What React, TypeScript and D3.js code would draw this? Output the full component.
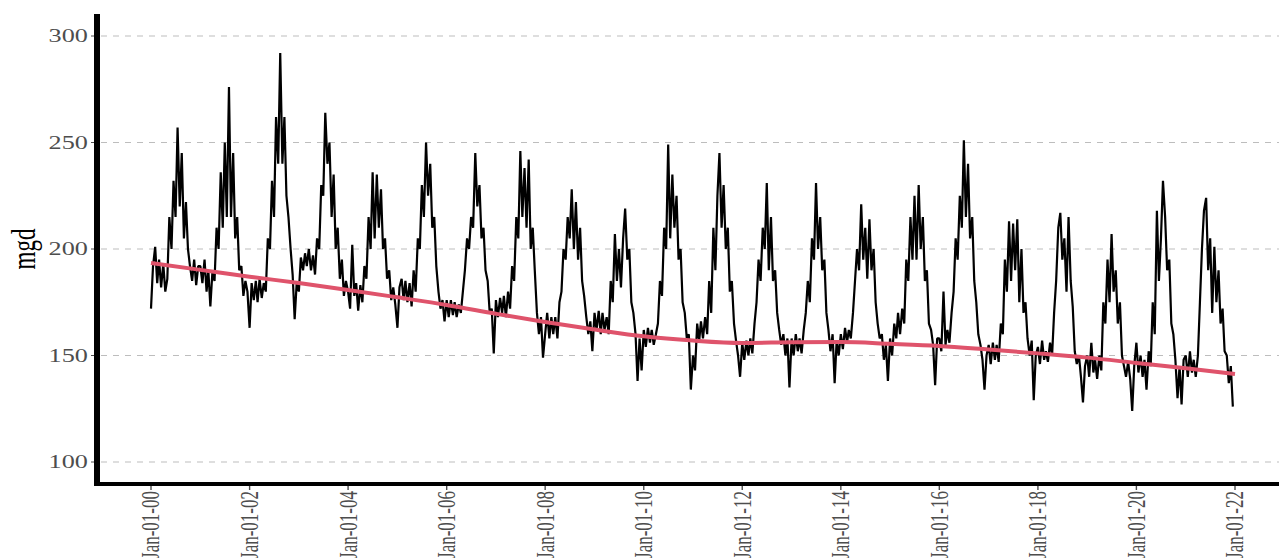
import { useRef, useEffect } from "react";
import * as d3 from "d3";

// half-monthly readings (1st and 16th of each month), one row per year 2000..2021
const startYear = 2000;
const demandByYear: number[][] = [
  [172, 192, 201, 184, 195, 182, 193, 180, 186, 215, 200, 232, 215, 257, 220, 245, 205, 222, 200, 192, 185, 195, 183, 192], // 2000
  [192, 184, 195, 180, 190, 173, 190, 185, 210, 200, 236, 210, 250, 215, 276, 215, 245, 205, 215, 190, 192, 178, 185, 180], // 2001
  [163, 184, 176, 185, 175, 186, 177, 184, 180, 205, 200, 232, 215, 262, 240, 292, 240, 262, 225, 215, 200, 188, 167, 184], // 2002
  [180, 196, 190, 198, 192, 200, 190, 197, 188, 205, 200, 230, 225, 264, 240, 250, 215, 235, 200, 210, 186, 195, 178, 185], // 2003
  [180, 172, 202, 178, 184, 171, 183, 175, 192, 186, 215, 200, 236, 205, 235, 210, 228, 200, 205, 186, 190, 176, 182, 174], // 2004
  [163, 182, 186, 176, 185, 175, 184, 173, 190, 180, 205, 200, 230, 215, 250, 225, 240, 210, 215, 192, 180, 172, 176, 166], // 2005
  [176, 168, 176, 169, 175, 168, 174, 170, 180, 190, 205, 200, 215, 210, 245, 220, 230, 205, 210, 190, 185, 170, 172, 151], // 2006
  [176, 168, 177, 170, 178, 168, 180, 172, 192, 185, 215, 205, 246, 215, 238, 210, 242, 200, 210, 190, 170, 160, 168, 149], // 2007
  [160, 170, 158, 168, 160, 168, 158, 175, 180, 200, 195, 215, 205, 228, 200, 222, 195, 210, 185, 178, 168, 160, 166, 152], // 2008
  [170, 162, 171, 160, 170, 162, 168, 160, 185, 175, 207, 185, 200, 182, 205, 219, 195, 200, 175, 170, 160, 138, 158, 143], // 2009
  [162, 154, 163, 156, 162, 155, 160, 165, 185, 178, 210, 200, 249, 205, 235, 210, 225, 195, 200, 175, 170, 158, 160, 134], // 2010
  [150, 143, 165, 157, 166, 158, 168, 160, 185, 170, 210, 190, 225, 245, 210, 230, 200, 210, 180, 185, 165, 157, 150, 140], // 2011
  [156, 148, 157, 150, 158, 151, 165, 175, 195, 185, 210, 200, 231, 190, 215, 185, 190, 170, 162, 155, 160, 150, 158, 135], // 2012
  [158, 150, 160, 152, 158, 151, 162, 170, 185, 175, 205, 195, 231, 200, 215, 190, 195, 170, 162, 152, 160, 137, 157, 150], // 2013
  [160, 153, 163, 156, 162, 158, 170, 185, 200, 190, 221, 195, 210, 186, 214, 190, 200, 175, 165, 158, 160, 148, 155, 138], // 2014
  [158, 150, 165, 158, 170, 160, 172, 165, 195, 185, 215, 195, 225, 195, 230, 200, 215, 185, 190, 165, 162, 155, 136, 158], // 2015
  [158, 152, 180, 155, 162, 156, 170, 180, 205, 195, 225, 210, 251, 215, 240, 205, 215, 185, 175, 160, 155, 148, 134, 150], // 2016
  [155, 146, 156, 148, 155, 147, 165, 160, 195, 180, 213, 185, 212, 190, 214, 175, 200, 170, 175, 158, 150, 157, 129, 150], // 2017
  [154, 146, 157, 148, 152, 147, 156, 150, 170, 185, 210, 217, 195, 205, 180, 215, 185, 173, 152, 146, 150, 140, 128, 145], // 2018
  [150, 140, 156, 142, 148, 139, 150, 143, 175, 165, 195, 175, 207, 180, 190, 165, 175, 150, 145, 140, 147, 139, 124, 145], // 2019
  [156, 142, 150, 140, 148, 134, 152, 145, 175, 160, 218, 185, 205, 232, 215, 190, 195, 165, 160, 148, 130, 145, 127, 148], // 2020
  [150, 140, 152, 142, 148, 140, 150, 175, 200, 218, 224, 190, 205, 170, 201, 175, 190, 165, 172, 152, 150, 137, 145, 126], // 2021
];

// smoothed trend, read at Jan 1 of each year
const trendYears = d3.range(2000, 2023);
const trendValues = [
  193.4, 190.2, 187, 184, 180.8, 177.3, 173.7, 169.6, 165.7, 162.2, 159, 157, 155.9, 156.2, 156.3, 155.5, 154.5,
  152.8, 151, 149, 146.5, 144, 141.3,
];

const yTicks = [100, 150, 200, 250, 300];
const xTickYears = d3.range(2000, 2023, 2);

const W = 1279;
const H = 558;
const SX = 1.42; // the original render is stretched horizontally
const FONT = "'Liberation Serif', 'Times New Roman', serif";

export default function App() {
  const svgRef = useRef<SVGSVGElement>(null);

  useEffect(() => {
    if (!svgRef.current) return;
    const svg = d3.select(svgRef.current);
    svg.selectAll("*").remove();

    const panel = { left: 97, right: W, top: 14, bottom: 484 };

    const x = d3
      .scaleTime()
      .domain([new Date(2000, 0, 1), new Date(2022, 0, 1)])
      .range([151, 1235]);
    const y = d3.scaleLinear().domain([100, 300]).range([462, 36]);

    const points = demandByYear.flatMap((vals, yi) =>
      vals.map((v, i) => ({
        date: new Date(startYear + yi, Math.floor(i / 2), i % 2 ? 16 : 1),
        value: v,
      }))
    );

    // grid lines
    svg
      .append("g")
      .selectAll("line")
      .data(yTicks)
      .join("line")
      .attr("x1", panel.left + 4)
      .attr("x2", panel.right)
      .attr("y1", (d) => y(d))
      .attr("y2", (d) => y(d))
      .attr("stroke", "#BDBDBD")
      .attr("stroke-width", 1)
      .attr("stroke-dasharray", "6,6");

    // demand series
    const line = d3
      .line<{ date: Date; value: number }>()
      .x((d) => x(d.date))
      .y((d) => y(d.value));
    svg
      .append("path")
      .datum(points)
      .attr("d", line)
      .attr("fill", "none")
      .attr("stroke", "#000")
      .attr("stroke-width", 2.2)
      .attr("stroke-linejoin", "bevel");

    // trend
    const trend = d3
      .line<number>()
      .x((_, i) => x(new Date(trendYears[i], 0, 1)))
      .y((d) => y(d))
      .curve(d3.curveMonotoneX);
    svg
      .append("path")
      .datum(trendValues)
      .attr("d", trend)
      .attr("fill", "none")
      .attr("stroke", "#DF536B")
      .attr("stroke-width", 4);

    // y axis
    const ya = svg.append("g");
    ya.selectAll("line")
      .data(yTicks)
      .join("line")
      .attr("x1", panel.left - 6)
      .attr("x2", panel.left)
      .attr("y1", (d) => y(d))
      .attr("y2", (d) => y(d))
      .attr("stroke", "#4D4D4D")
      .attr("stroke-width", 1);
    ya.selectAll("text")
      .data(yTicks)
      .join("text")
      .attr("transform", (d) => `translate(${panel.left - 9},${y(d)}) scale(${SX},1)`)
      .attr("text-anchor", "end")
      .attr("dy", "0.35em")
      .style("font-family", FONT)
      .style("font-size", "18.5px")
      .style("fill", "#4D4D4D")
      .text((d) => d);

    // x axis
    const xa = svg.append("g");
    const fmt = d3.timeFormat("%b-%d-%y");
    xa.selectAll("line")
      .data(xTickYears)
      .join("line")
      .attr("x1", (d) => x(new Date(d, 0, 1)))
      .attr("x2", (d) => x(new Date(d, 0, 1)))
      .attr("y1", panel.bottom)
      .attr("y2", panel.bottom + 6)
      .attr("stroke", "#4D4D4D")
      .attr("stroke-width", 1.4);
    xa.selectAll("text")
      .data(xTickYears)
      .join("text")
      .attr(
        "transform",
        (d) => `translate(${x(new Date(d, 0, 1))},${panel.bottom + 7}) scale(${SX},1) rotate(-90)`
      )
      .attr("text-anchor", "end")
      .attr("dy", "0.35em")
      .style("font-family", FONT)
      .style("font-size", "17px")
      .style("fill", "#4D4D4D")
      .text((d) => fmt(new Date(d, 0, 1)));

    // axis lines
    svg
      .append("line")
      .attr("x1", panel.left)
      .attr("x2", panel.left)
      .attr("y1", panel.top)
      .attr("y2", panel.bottom + 2)
      .attr("stroke", "#000")
      .attr("stroke-width", 6);
    svg
      .append("line")
      .attr("x1", panel.left - 3)
      .attr("x2", panel.right)
      .attr("y1", panel.bottom)
      .attr("y2", panel.bottom)
      .attr("stroke", "#000")
      .attr("stroke-width", 4);

    // y title
    svg
      .append("text")
      .attr("transform", `translate(24,${(panel.top + panel.bottom) / 2}) scale(${SX},1) rotate(-90)`)
      .attr("text-anchor", "middle")
      .attr("dy", "0.35em")
      .style("font-family", FONT)
      .style("font-size", "23px")
      .style("fill", "#000")
      .text("mgd");
  }, []);

  return (
    <svg
      ref={svgRef}
      width={W}
      height={H}
      style={{ position: "absolute", left: 0, top: 0, background: "#fff" }}
    />
  );
}
